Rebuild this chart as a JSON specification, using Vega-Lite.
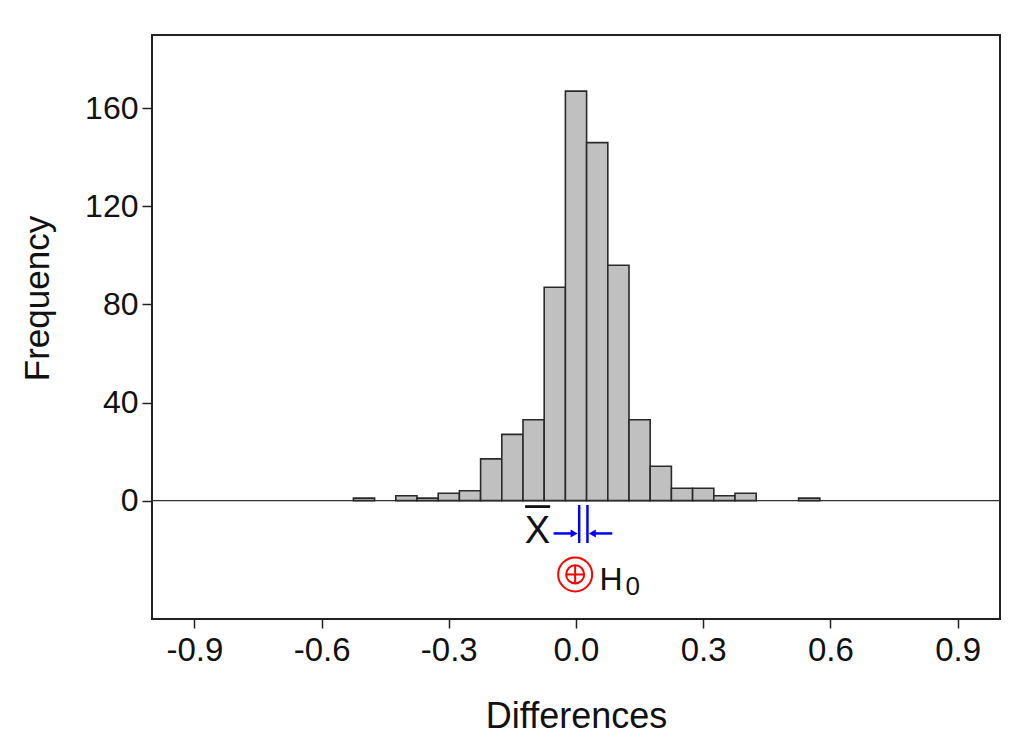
{
  "$schema": "https://vega.github.io/schema/vega-lite/v6.json",
  "width": 848,
  "height": 584,
  "autosize": {"type": "none"},
  "padding": {"left": 152, "top": 35, "right": 13, "bottom": 126},
  "background": "white",
  "config": {
    "view": {"stroke": "#222222", "strokeWidth": 2},
    "font": "Liberation Sans"
  },
  "layer": [
    {
      "data": {"values": [{"level": 0}]},
      "mark": {"type": "rule", "color": "#333333", "strokeWidth": 1.2},
      "encoding": {"y": {"field": "level", "type": "quantitative"}}
    },
    {
      "data": {
        "values": [
          {"bin_start": -0.525, "bin_end": -0.475, "count": 1},
          {"bin_start": -0.425, "bin_end": -0.375, "count": 2},
          {"bin_start": -0.375, "bin_end": -0.325, "count": 1},
          {"bin_start": -0.325, "bin_end": -0.275, "count": 3},
          {"bin_start": -0.275, "bin_end": -0.225, "count": 4},
          {"bin_start": -0.225, "bin_end": -0.175, "count": 17},
          {"bin_start": -0.175, "bin_end": -0.125, "count": 27},
          {"bin_start": -0.125, "bin_end": -0.075, "count": 33},
          {"bin_start": -0.075, "bin_end": -0.025, "count": 87},
          {"bin_start": -0.025, "bin_end": 0.025, "count": 167},
          {"bin_start": 0.025, "bin_end": 0.075, "count": 146},
          {"bin_start": 0.075, "bin_end": 0.125, "count": 96},
          {"bin_start": 0.125, "bin_end": 0.175, "count": 33},
          {"bin_start": 0.175, "bin_end": 0.225, "count": 14},
          {"bin_start": 0.225, "bin_end": 0.275, "count": 5},
          {"bin_start": 0.275, "bin_end": 0.325, "count": 5},
          {"bin_start": 0.325, "bin_end": 0.375, "count": 2},
          {"bin_start": 0.375, "bin_end": 0.425, "count": 3},
          {"bin_start": 0.525, "bin_end": 0.575, "count": 1}
        ]
      },
      "mark": {"type": "rect", "fill": "#c0c0c0", "stroke": "#2a2a2a", "strokeWidth": 1.6},
      "encoding": {
        "x": {
          "field": "bin_start",
          "type": "quantitative",
          "scale": {"domain": [-1, 1], "nice": false, "zero": false},
          "axis": {
            "values": [-0.9, -0.6, -0.3, 0, 0.3, 0.6, 0.9],
            "labelExpr": "replace(format(datum.value, '.1f'), '\u2212', '-')",
            "title": "Differences",
            "grid": false,
            "domain": false,
            "tickSize": 9,
            "tickColor": "#222222",
            "tickWidth": 1.5,
            "labelFont": "Liberation Sans",
            "labelFontSize": 33,
            "labelColor": "#111111",
            "labelPadding": 6,
            "labelFlush": false,
            "labelOverlap": false,
            "titleFont": "Liberation Sans",
            "titleFontSize": 36,
            "titleFontWeight": "normal",
            "titleColor": "#111111",
            "titleY": 108,
            "titleBaseline": "alphabetic"
          }
        },
        "x2": {"field": "bin_end"},
        "y": {
          "field": "count",
          "type": "quantitative",
          "scale": {"domain": [-48.3, 189.9], "nice": false, "zero": false},
          "axis": {
            "values": [0, 40, 80, 120, 160],
            "title": "Frequency",
            "grid": false,
            "domain": false,
            "tickSize": 10,
            "tickColor": "#222222",
            "tickWidth": 1.5,
            "labelFont": "Liberation Sans",
            "labelFontSize": 32,
            "labelColor": "#111111",
            "labelPadding": 4,
            "labelOverlap": false,
            "titleFont": "Liberation Sans",
            "titleFontSize": 35,
            "titleFontWeight": "normal",
            "titleColor": "#111111",
            "titleAngle": -90,
            "titleX": -115,
            "titleY": 263,
            "titleAlign": "center",
            "titleBaseline": "middle"
          }
        },
        "y2": {"datum": 0}
      }
    },
    {
      "data": {"values": [{"x": -0.120, "x2": -0.061, "y": -2.45}]},
      "mark": {"type": "rule", "color": "#111111", "strokeWidth": 2.8},
      "encoding": {
        "x": {"field": "x", "type": "quantitative"},
        "x2": {"field": "x2"},
        "y": {"field": "y", "type": "quantitative"}
      }
    },
    {
      "data": {"values": [{"x": -0.091, "y": -17.3, "label": "X"}]},
      "mark": {"type": "text", "font": "Liberation Sans", "fontSize": 38, "color": "#111111", "align": "center", "baseline": "alphabetic"},
      "encoding": {
        "x": {"field": "x", "type": "quantitative"},
        "y": {"field": "y", "type": "quantitative"},
        "text": {"field": "label"}
      }
    },
    {
      "data": {
        "values": [
          {"x": 0.0075, "x2": 0.0075, "y": -1.8, "y2": -17.3},
          {"x": 0.027, "x2": 0.027, "y": -1.8, "y2": -17.3},
          {"x": -0.053, "x2": -0.004, "y": -13.4, "y2": -13.4},
          {"x": 0.038, "x2": 0.0855, "y": -13.4, "y2": -13.4}
        ]
      },
      "mark": {"type": "rule", "color": "#0000ff", "strokeWidth": 2.5},
      "encoding": {
        "x": {"field": "x", "type": "quantitative"},
        "x2": {"field": "x2"},
        "y": {"field": "y", "type": "quantitative"},
        "y2": {"field": "y2"}
      }
    },
    {
      "data": {"values": [{"x": -0.0045, "y": -13.4}]},
      "mark": {"type": "point", "shape": "triangle-right", "filled": true, "color": "#0000ff", "size": 64, "opacity": 1},
      "encoding": {
        "x": {"field": "x", "type": "quantitative"},
        "y": {"field": "y", "type": "quantitative"}
      }
    },
    {
      "data": {"values": [{"x": 0.0385, "y": -13.4}]},
      "mark": {"type": "point", "shape": "triangle-left", "filled": true, "color": "#0000ff", "size": 64, "opacity": 1},
      "encoding": {
        "x": {"field": "x", "type": "quantitative"},
        "y": {"field": "y", "type": "quantitative"}
      }
    },
    {
      "data": {"values": [{"x": -0.002, "y": -30.1}]},
      "mark": {
        "type": "point",
        "shape": "M-1,0A1,1,0,1,1,1,0A1,1,0,1,1,-1,0M-0.53,0A0.53,0.53,0,1,1,0.53,0A0.53,0.53,0,1,1,-0.53,0M-0.53,0L0.53,0M0,-0.53L0,0.53",
        "filled": false,
        "stroke": "#ff0000",
        "strokeWidth": 2,
        "size": 1156,
        "opacity": 1
      },
      "encoding": {
        "x": {"field": "x", "type": "quantitative"},
        "y": {"field": "y", "type": "quantitative"}
      }
    },
    {
      "data": {"values": [{"x": 0.0826, "y": -36.5, "label": "H"}]},
      "mark": {"type": "text", "font": "Liberation Sans", "fontSize": 32, "color": "#111111", "align": "center", "baseline": "alphabetic"},
      "encoding": {
        "x": {"field": "x", "type": "quantitative"},
        "y": {"field": "y", "type": "quantitative"},
        "text": {"field": "label"}
      }
    },
    {
      "data": {"values": [{"x": 0.1337, "y": -38.6, "label": "0"}]},
      "mark": {"type": "text", "font": "Liberation Sans", "fontSize": 26, "color": "#111111", "align": "center", "baseline": "alphabetic"},
      "encoding": {
        "x": {"field": "x", "type": "quantitative"},
        "y": {"field": "y", "type": "quantitative"},
        "text": {"field": "label"}
      }
    }
  ]
}
